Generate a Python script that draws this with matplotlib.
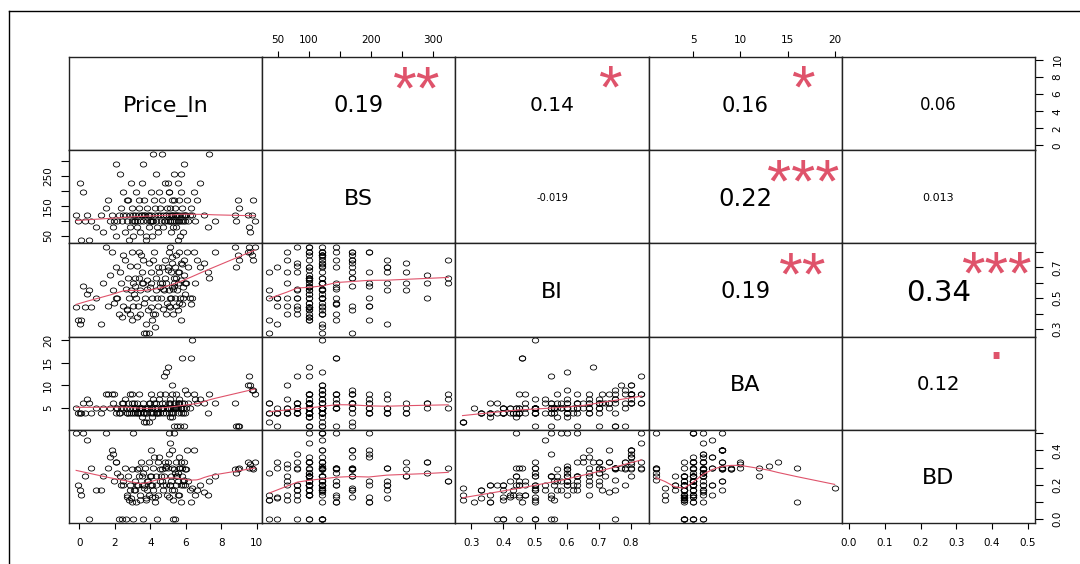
import numpy as np
import matplotlib
matplotlib.use("Agg")
import matplotlib.pyplot as plt
from matplotlib.path import Path
from matplotlib.transforms import Affine2D
from matplotlib.textpath import TextPath
from matplotlib.font_manager import FontProperties
from matplotlib.lines import Line2D

plt.rcParams['font.family'] = ['DejaVu Sans']

# observations, read (roughly) off the scatter panels
price_ln = [-0.18, -0.06, 0.03, 0.12, 0.21, 0.34, 0.42, 0.55, 0.63, 0.94,
            1.22, 1.35, 1.52, 1.61, 1.74, 1.83, 1.92, 2.04, 2.13, 2.21,
            2.33, 2.42, 2.48, 2.57, 2.61, 2.66, 2.72, 2.77, 2.83, 2.86,
            2.91, 2.95, 3.02, 3.05, 2.98, 2.31, 2.07, 1.96, 2.44, 2.69,
            3.12, 3.16, 3.21, 3.25, 3.31, 3.34, 3.41, 3.44, 3.52, 3.55,
            3.61, 3.64, 3.71, 3.74, 3.81, 3.84, 3.91, 3.94, 4.01, 4.03,
            4.06, 4.11, 4.14, 4.21, 4.24, 4.31, 4.34, 4.41, 4.44, 4.52,
            3.23, 3.57, 3.86, 4.17, 4.36, 3.08, 3.37, 3.67, 3.97, 4.27,
            4.46, 3.47, 3.77, 4.08, 4.55, 4.61, 4.64, 4.71, 4.74, 4.81,
            4.84, 4.91, 4.94, 5.01, 5.03, 5.06, 5.11, 5.14, 5.16, 5.21,
            5.24, 5.27, 5.31, 5.34, 5.37, 5.41, 5.44, 5.47, 5.51, 5.54,
            5.57, 5.61, 5.64, 5.67, 5.71, 5.74, 5.77, 5.81, 5.84, 5.87,
            5.91, 5.94, 6.01, 6.04, 4.67, 4.87, 5.08, 5.26, 5.43, 5.63,
            4.97, 5.13, 5.33, 5.56, 5.73, 4.77, 5.04, 5.23, 5.83, 5.96,
            6.12, 6.23, 6.31, 6.35, 6.44, 6.52, 6.63, 6.81, 7.02, 7.24,
            7.33, 7.62, 8.79, 8.85, 8.93, 9.01, 9.52, 9.58, 9.63, 9.72,
            9.81, 9.9]

bs = [121, 100, 225, 36, 196, 100, 121, 36, 100, 81,
      121, 64, 144, 169, 100, 121, 81, 49, 100, 121,
      144, 100, 196, 64, 121, 100, 169, 36, 121, 81,
      225, 100, 121, 49, 144, 256, 289, 100, 121, 169,
      100, 121, 196, 81, 121, 144, 100, 64, 121, 225,
      100, 169, 121, 36, 100, 144, 121, 81, 100, 196,
      121, 49, 100, 169, 121, 256, 100, 121, 64, 144,
      100, 289, 121, 324, 81, 100, 169, 121, 100, 144,
      196, 121, 49, 100, 121, 100, 169, 121, 81, 100,
      225, 121, 144, 100, 121, 196, 100, 64, 121, 169,
      100, 121, 256, 100, 121, 144, 81, 100, 121, 225,
      100, 169, 121, 49, 100, 196, 121, 144, 100, 121,
      289, 100, 121, 169, 324, 121, 100, 81, 121, 100,
      225, 144, 169, 36, 256, 100, 196, 121, 64, 121,
      100, 121, 144, 121, 196, 100, 169, 225, 121, 81,
      324, 100, 121, 100, 169, 144, 121, 81, 64, 121,
      169, 100]

bi = [0.44, 0.36, 0.33, 0.36, 0.58, 0.44, 0.53, 0.55, 0.44, 0.50,
      0.33, 0.60, 0.833, 0.45, 0.65, 0.80, 0.55, 0.70, 0.50, 0.40,
      0.60, 0.38, 0.45, 0.75, 0.56, 0.43, 0.63, 0.50, 0.71, 0.40,
      0.55, 0.80, 0.60, 0.45, 0.36, 0.67, 0.50, 0.47, 0.78, 0.42,
      0.58, 0.63, 0.50, 0.71, 0.45, 0.80, 0.55, 0.40, 0.60, 0.67,
      0.75, 0.273, 0.50, 0.273, 0.62, 0.56, 0.273, 0.73, 0.44, 0.60,
      0.67, 0.50, 0.40, 0.80, 0.31, 0.55, 0.63, 0.70, 0.45, 0.57,
      0.38, 0.60, 0.42, 0.75, 0.50, 0.53, 0.63, 0.47, 0.57, 0.40,
      0.67, 0.78, 0.33, 0.36, 0.60, 0.50, 0.70, 0.56, 0.43, 0.63,
      0.75, 0.60, 0.47, 0.68, 0.55, 0.80, 0.44, 0.67, 0.50, 0.73,
      0.57, 0.40, 0.60, 0.63, 0.50, 0.70, 0.45, 0.78, 0.55, 0.60,
      0.42, 0.67, 0.80, 0.50, 0.62, 0.36, 0.72, 0.46, 0.57, 0.75,
      0.65, 0.53, 0.60, 0.80, 0.60, 0.40, 0.833, 0.56, 0.63, 0.47,
      0.70, 0.50, 0.58, 0.67, 0.73, 0.55, 0.45, 0.77, 0.50, 0.60,
      0.70, 0.50, 0.46, 0.50, 0.80, 0.60, 0.75, 0.70, 0.73, 0.67,
      0.63, 0.80, 0.833, 0.70, 0.78, 0.75, 0.80, 0.833, 0.80, 0.78,
      0.75, 0.833]

ba = [5, 4, 4, 4, 6, 4, 7, 6, 4, 5,
      4, 5, 8, 8, 5, 8, 6, 4, 5, 4,
      5, 6, 5, 7, 5, 4, 6, 4, 8, 5,
      4, 8, 5, 4, 6, 4, 5, 8, 6, 4,
      5, 4, 5, 6, 4, 8, 5, 4, 3, 5,
      4, 2, 5, 2, 4, 5, 2, 6, 5, 4,
      8, 5, 4, 6, 5, 4, 6, 5, 4, 8,
      4, 6, 5, 7, 4, 6, 5, 4, 6, 5,
      7, 5, 4, 3, 4, 5, 6, 5, 4, 6,
      8, 13, 5, 14, 5, 6, 3, 5, 4, 8,
      3, 5, 6, 1, 5, 6, 5, 8, 1, 4,
      5, 6, 7, 1, 5, 4, 6, 16, 5, 1,
      6, 4, 5, 8, 5, 4, 6, 4, 5, 6,
      5, 7, 5, 6, 5, 12, 4, 10, 4, 9,
      6, 5, 16, 20, 8, 7, 6, 7, 6, 4,
      8, 6, 6, 1, 1, 1, 10, 12, 10, 9,
      9, 8]

bd = [0.50, 0.20, 0.17, 0.14, 0.50, 0.25, 0.46, 0.00, 0.30, 0.17,
      0.17, 0.25, 0.50, 0.30, 0.36, 0.40, 0.38, 0.33, 0.27, 0.00,
      0.20, 0.00, 0.22, 0.30, 0.00, 0.14, 0.25, 0.11, 0.17, 0.20,
      0.125, 0.29, 0.50, 0.00, 0.10, 0.25, 0.33, 0.22, 0.20, 0.13,
      0.22, 0.17, 0.10, 0.29, 0.20, 0.30, 0.14, 0.11, 0.25, 0.20,
      0.00, 0.18, 0.30, 0.11, 0.17, 0.22, 0.14, 0.33, 0.25, 0.20,
      0.40, 0.13, 0.17, 0.36, 0.10, 0.25, 0.20, 0.33, 0.14, 0.29,
      0.20, 0.27, 0.22, 0.30, 0.00, 0.17, 0.25, 0.20, 0.25, 0.13,
      0.36, 0.33, 0.125, 0.20, 0.22, 0.25, 0.29, 0.20, 0.17, 0.33,
      0.30, 0.31, 0.14, 0.33, 0.50, 0.38, 0.20, 0.22, 0.25, 0.40,
      0.17, 0.00, 0.29, 0.50, 0.00, 0.27, 0.20, 0.33, 0.25, 0.22,
      0.14, 0.30, 0.36, 0.30, 0.20, 0.10, 0.25, 0.30, 0.22, 0.23,
      0.33, 0.20, 0.29, 0.40, 0.22, 0.20, 0.44, 0.11, 0.25, 0.14,
      0.30, 0.20, 0.17, 0.27, 0.33, 0.25, 0.13, 0.30, 0.20, 0.29,
      0.22, 0.17, 0.10, 0.18, 0.40, 0.14, 0.17, 0.20, 0.16, 0.14,
      0.22, 0.25, 0.29, 0.27, 0.29, 0.30, 0.33, 0.30, 0.32, 0.30,
      0.29, 0.33]

var_names = ['Price_ln', 'BS', 'BI', 'BA', 'BD']
data = [price_ln, bs, bi, ba, bd]

tick_vals = [[0, 2, 4, 6, 8, 10],
             [50, 100, 150, 200, 250, 300],
             [0.3, 0.4, 0.5, 0.6, 0.7, 0.8],
             [5, 10, 15, 20],
             [0.0, 0.1, 0.2, 0.3, 0.4, 0.5]]
x_tick_labels = [['0', '2', '4', '6', '8', '10'],
                 ['50', '100', '', '200', '', '300'],
                 ['0.3', '0.4', '0.5', '0.6', '0.7', '0.8'],
                 ['5', '10', '15', '20'],
                 ['0.0', '0.1', '0.2', '0.3', '0.4', '0.5']]
y_tick_labels = [['0', '2', '4', '6', '8', '10'],
                 ['50', '', '150', '', '250', ''],
                 ['0.3', '', '0.5', '', '0.7', ''],
                 ['5', '10', '15', '20'],
                 ['0.0', '', '0.2', '', '0.4', '']]

# upper panels: correlation and significance stars
cor_cells = [(0, 1), (0, 2), (0, 3), (0, 4), (1, 2), (1, 3), (1, 4), (2, 3), (2, 4), (3, 4)]
cor_values = [0.19, 0.14, 0.16, 0.06, -0.019, 0.22, 0.013, 0.19, 0.34, 0.12]
cor_text = ['0.19', '0.14', '0.16', '0.06', '-0.019', '0.22', '0.013', '0.19', '0.34', '0.12']
cor_stars = ['**', '*', '*', '', '', '***', '', '**', '***', '.']

red = '#DF536B'


def lowess(x, y, f=2/3, iters=3):
    # plain version of R's lowess()
    x = np.asarray(x, float)
    y = np.asarray(y, float)
    o = np.argsort(x, kind='stable')
    x, y = x[o], y[o]
    n = len(x)
    ns = max(2, min(n, int(f * n + 1e-7)))
    rob = np.ones(n)
    fit = np.zeros(n)
    span = x[-1] - x[0]
    for it in range(iters + 1):
        for i in range(n):
            d = np.abs(x - x[i])
            h = max(np.sort(d)[ns - 1], 1e-12)
            u = np.clip(d / h, 0, 1)
            w = (1 - u ** 3) ** 3 * rob
            sw = w.sum()
            if sw <= 0:
                fit[i] = y[i]
                continue
            xm = (w * x).sum() / sw
            ym = (w * y).sum() / sw
            b = (w * (x - xm) ** 2).sum()
            if np.sqrt(b / sw) > 0.001 * span:
                fit[i] = ym + (w * (x - xm) * (y - ym)).sum() / b * (x[i] - xm)
            else:
                fit[i] = ym
        res = y - fit
        s = np.median(np.abs(res))
        if s == 0:
            break
        u = np.clip(res / (6 * s), -1, 1)
        rob = (1 - u ** 2) ** 2
    return x, fit


fp = FontProperties(family='DejaVu Sans')
fp_star = FontProperties(family='Liberation Sans')


def ink(s, size, prop=fp):
    return TextPath((0, 0), s, size=size, prop=prop).get_extents()


cap_h = ink('B', 1).height
cor_fit = 90.0   # 0.8/strwidth analogue
star_scale = 1.02

fig = plt.figure(figsize=(10.8, 5.64), dpi=100)
left, right = 69 / 1080, 1035 / 1080
top, bottom = 1 - 57.3 / 564, 1 - 522.7 / 564
n = len(var_names)
pw = (right - left) / n
ph = (top - bottom) / n

lims = []
for v in data:
    lo, hi = min(v), max(v)
    r = hi - lo
    lims.append((lo - 0.04 * r, hi + 0.04 * r))

ell = Path.unit_circle().transformed(Affine2D().scale(1.25, 1.0))

axes = []
for i in range(n):
    row = []
    for j in range(n):
        ax = fig.add_axes([left + j * pw, top - (i + 1) * ph, pw, ph])
        ax.set_xlim(lims[j])
        ax.set_ylim(lims[i])
        ax.set_xticks([])
        ax.set_yticks([])
        for sp in ax.spines.values():
            sp.set_linewidth(1.0)
            sp.set_color('#222222')
        row.append(ax)
    axes.append(row)

# lower panels: scatter + lowess
for i in range(n):
    for j in range(i):
        ax = axes[i][j]
        ax.plot(data[j], data[i], linestyle='none', marker=ell, ms=4.6,
                mfc='none', mec='black', mew=0.6)
        lx, ly = lowess(data[j], data[i])
        ax.plot(lx, ly, color=red, lw=0.8)

# diagonal names
for k in range(n):
    ax = axes[k][k]
    ax.annotate(var_names[k], (0.5, 0.5), xycoords='axes fraction',
                xytext=(0, -cap_h * 16 / 2), textcoords='offset points',
                ha='center', va='baseline', fontsize=16)

# upper panels
for (i, j), r, txt, sig in zip(cor_cells, cor_values, cor_text, cor_stars):
    ax = axes[i][j]
    base = cor_fit / ink(txt, 1).width
    fs = base * (abs(r) + 0.3) / 1.3
    ax.annotate(txt, (0.5, 0.5), xycoords='axes fraction',
                xytext=(0, -cap_h * fs / 2), textcoords='offset points',
                ha='center', va='baseline', fontsize=fs)
    if sig.strip():
        sfs = base * star_scale
        b = ink(sig, sfs, fp_star)
        ax.annotate(sig, (0.8, 0.8), xycoords='axes fraction',
                    xytext=(0, -(b.y0 + b.y1) / 2 - 0.6), textcoords='offset points',
                    ha='center', va='baseline', fontsize=sfs, color=red,
                    family='Liberation Sans', annotation_clip=False)

# outer axes, alternating like pairs()
tick_kw = dict(direction='out', width=0.8, labelsize=7.5, colors='black')
for j in range(n):
    if j % 2 == 1:
        ax = axes[0][j]
        ax.set_xticks(tick_vals[j], x_tick_labels[j])
        ax.tick_params(axis='x', top=True, bottom=False, labeltop=True,
                       labelbottom=False, length=4, pad=4.5, **tick_kw)
    else:
        ax = axes[n - 1][j]
        ax.set_xticks(tick_vals[j], x_tick_labels[j])
        ax.tick_params(axis='x', bottom=True, labelbottom=True,
                       length=4, pad=7, **tick_kw)
for i in range(n):
    if i % 2 == 1:
        ax = axes[i][0]
        ax.set_yticks(tick_vals[i], y_tick_labels[i])
        ax.tick_params(axis='y', left=True, labelleft=True, length=5.5,
                       pad=6, labelrotation=90, **tick_kw)
    else:
        ax = axes[i][n - 1]
        ax.set_yticks(tick_vals[i], y_tick_labels[i])
        ax.tick_params(axis='y', right=True, left=False, labelright=True,
                       labelleft=False, length=5.5, pad=7, labelrotation=90, **tick_kw)
    for lab in ax.get_yticklabels():
        lab.set_verticalalignment('center')

# frame of the original screenshot
fig.add_artist(Line2D([8.6 / 1080, 1], [1 - 11 / 564] * 2, color='black', lw=1,
                      transform=fig.transFigure))
fig.add_artist(Line2D([8.6 / 1080] * 2, [0, 1 - 11 / 564], color='black', lw=1,
                      transform=fig.transFigure))

fig.savefig('out.png', dpi=100, facecolor='white')
